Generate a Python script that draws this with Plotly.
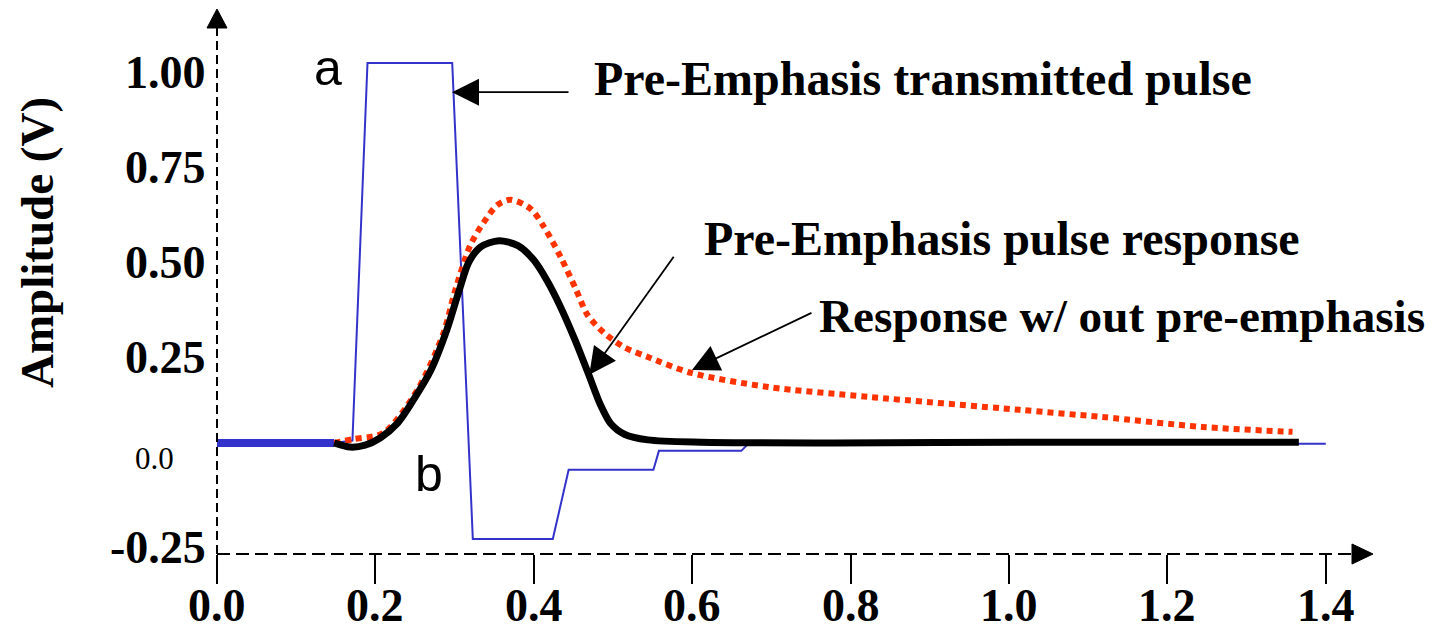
import plotly.graph_objects as go

# ---- data -------------------------------------------------------------
# transmitted pre-emphasis pulse (thin blue staircase)
pulse_t = [0.148, 0.171, 0.190, 0.297, 0.323, 0.424, 0.444, 0.551, 0.558, 0.662, 0.671, 1.400]
pulse_v = [0.024, 0.030, 1.024, 1.024, -0.229, -0.229, -0.047, -0.047, 0.003, 0.003, 0.022, 0.022]

# idle level before the pulse (thick blue)
idle_t = [0.0, 0.148]
idle_v = [0.024, 0.024]

# pulse response with pre-emphasis (thick black)
resp_t = [0.148, 0.168, 0.187, 0.206, 0.228, 0.248, 0.270, 0.290, 0.305, 0.318, 0.333,
          0.356, 0.380, 0.400, 0.417, 0.433, 0.452, 0.470, 0.484, 0.497, 0.515, 0.544,
          0.611, 0.780, 1.016, 1.366]
resp_v = [0.024, 0.013, 0.018, 0.037, 0.076, 0.137, 0.215, 0.320, 0.420, 0.500, 0.540,
          0.556, 0.543, 0.505, 0.450, 0.385, 0.295, 0.200, 0.125, 0.075, 0.046, 0.032,
          0.026, 0.024, 0.026, 0.026]

# response without pre-emphasis (red dotted)
nopre_t = [0.148, 0.172, 0.210, 0.253, 0.286, 0.300, 0.320, 0.337, 0.354, 0.371, 0.396,
           0.413, 0.434, 0.453, 0.468, 0.489, 0.514, 0.544, 0.599, 0.696, 0.823, 1.013,
           1.118, 1.244, 1.358]
nopre_v = [0.024, 0.034, 0.050, 0.163, 0.313, 0.420, 0.545, 0.605, 0.650, 0.664, 0.640,
           0.592, 0.513, 0.429, 0.360, 0.313, 0.276, 0.250, 0.208, 0.171, 0.145, 0.111,
           0.092, 0.066, 0.053]

x_ticks = [0.0, 0.2, 0.4, 0.6, 0.8, 1.0, 1.2, 1.4]
x_tick_text = ["0.0", "0.2", "0.4", "0.6", "0.8", "1.0", "1.2", "1.4"]
y_ticks = [1.00, 0.75, 0.50, 0.25, -0.25]
y_tick_text = ["1.00", "0.75", "0.50", "0.25", "-0.25"]
y_zero_text = "0.0"

X_RANGE = [0.0, 1.4596]
Y_RANGE = [-0.2684, 1.1658]

SERIF = "Liberation Serif"
SANS = "Liberation Sans"
BLUE = "#3333cc"
RED = "#ff3300"

fig = go.Figure()
fig.add_trace(go.Scatter(x=pulse_t, y=pulse_v, mode="lines",
                         line=dict(color=BLUE, width=2), hoverinfo="skip"))
fig.add_trace(go.Scatter(x=idle_t, y=idle_v, mode="lines",
                         line=dict(color=BLUE, width=8), hoverinfo="skip"))
fig.add_trace(go.Scatter(x=nopre_t, y=nopre_v, mode="lines",
                         line=dict(color=RED, width=6, dash="6px,5px",
                                   shape="spline", smoothing=0.8), hoverinfo="skip"))
fig.add_trace(go.Scatter(x=resp_t, y=resp_v, mode="lines",
                         line=dict(color="black", width=7,
                                   shape="spline", smoothing=0.8), hoverinfo="skip"))

# dashed axes with arrow heads
shapes = [
    dict(type="line", xref="paper", yref="paper", x0=0, x1=0.9818, y0=0, y1=0,
         line=dict(color="black", width=2, dash="13px,6px")),
    dict(type="line", xref="paper", yref="paper", x0=0, x1=0, y0=0, y1=0.9651,
         line=dict(color="black", width=2, dash="9px,5px")),
    dict(type="path", xref="paper", yref="paper", xsizemode="pixel", ysizemode="pixel",
         xanchor=1.0, yanchor=0.0, path="M0,0 L-21,10 L-21,-10 Z",
         fillcolor="black", line=dict(color="black", width=1)),
    dict(type="path", xref="paper", yref="paper", xsizemode="pixel", ysizemode="pixel",
         xanchor=0.0, yanchor=1.0, path="M0,0 L-10,-19 L10,-19 Z",
         fillcolor="black", line=dict(color="black", width=1)),
]

annotations = []
tick_font = dict(family=SERIF, size=46, color="black", weight="bold")
# x tick labels, set just below the tick marks
for v, txt in zip(x_ticks, x_tick_text):
    annotations.append(dict(x=v, y=0, xref="x", yref="paper", text=txt, showarrow=False,
                            xanchor="center", yanchor="middle", yshift=-51,
                            font=tick_font))
# y tick labels
for v, txt in zip(y_ticks, y_tick_text):
    annotations.append(dict(x=0, y=v, xref="x", yref="y", text=txt, showarrow=False,
                            xanchor="right", yanchor="middle", xshift=-9,
                            font=tick_font))
annotations.append(dict(x=0, y=-0.018, xref="x", yref="y", text=y_zero_text, showarrow=False,
                        xanchor="right", yanchor="middle", xshift=-41,
                        font=dict(family=SERIF, size=31, color="black")))
# axis title
annotations.append(dict(x=-0.1557, y=0.55, xref="paper", yref="y", text="Amplitude (V)",
                        showarrow=False, textangle=-90, xanchor="center", yanchor="middle",
                        font=dict(family=SERIF, size=47, color="black", weight="bold")))
# curve labels
bold_font = dict(family=SERIF, size=48, color="black", weight="bold")
annotations += [
    dict(x=0.4735, y=0.984, xref="x", yref="y", text="Pre-Emphasis transmitted pulse",
         showarrow=False, xanchor="left", yanchor="middle", font=bold_font),
    dict(x=0.6124, y=0.563, xref="x", yref="y", text="Pre-Emphasis pulse response",
         showarrow=False, xanchor="left", yanchor="middle", font=bold_font),
    dict(x=0.7576, y=0.358, xref="x", yref="y", text="Response w/ out pre-emphasis",
         showarrow=False, xanchor="left", yanchor="middle",
         font=dict(family=SERIF, size=47.2, color="black", weight="bold")),
    dict(x=0.140, y=1.011, xref="x", yref="y", text="a", showarrow=False,
         xanchor="center", yanchor="middle", font=dict(family=SANS, size=50, color="black")),
    dict(x=0.2677, y=-0.059, xref="x", yref="y", text="b", showarrow=False,
         xanchor="center", yanchor="middle", font=dict(family=SANS, size=50, color="black")),
]
# pointer arrows
for (tx, ty, sx, sy) in [(0.2967, 0.947, 0.4457, 0.947),
                         (0.470, 0.203, 0.578, 0.518),
                         (0.5997, 0.216, 0.7525, 0.368)]:
    annotations.append(dict(x=tx, y=ty, ax=sx, ay=sy, xref="x", yref="y",
                            axref="x", ayref="y", text="", showarrow=True,
                            arrowhead=2, arrowsize=3, arrowwidth=1.8, arrowcolor="black"))

fig.update_layout(
    width=1439, height=626,
    margin=dict(l=217, r=66, t=9, b=72, autoexpand=False),
    paper_bgcolor="white", plot_bgcolor="white",
    showlegend=False,
    shapes=shapes, annotations=annotations,
    xaxis=dict(range=X_RANGE, showgrid=False, zeroline=False, showline=False,
               automargin=False, showticklabels=False,
               tickmode="array", tickvals=x_ticks,
               ticks="outside", ticklen=29, tickwidth=2, tickcolor="black"),
    yaxis=dict(range=Y_RANGE, showgrid=False, zeroline=False, showline=False,
               automargin=False, showticklabels=False, ticks=""),
)

fig.write_html("out.html")
